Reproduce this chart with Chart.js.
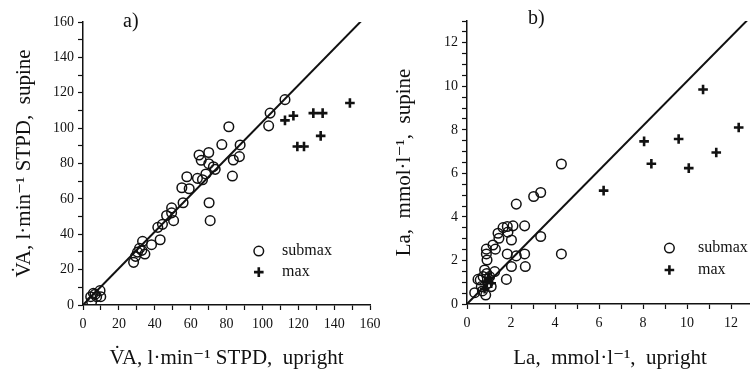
<!DOCTYPE html>
<html lang="en">
<head>
<meta charset="UTF-8">
<title>VA and La, upright vs supine</title>
<script src="https://cdn.jsdelivr.net/npm/chart.js"></script>
<style>
    html, body { margin: 0; padding: 0; background: #fff; overflow: hidden; width: 750px; height: 375px; }
    .panel { position: absolute; top: 0; height: 375px; }
    #pa { left: 0; width: 380px; }
    #pb { left: 380px; width: 390px; }
    .tag { position: absolute; font-family: "Liberation Serif", serif; font-size: 20px; color: #111; }
</style>
</head>
<body>
<div class="panel" id="pa"><canvas id="chartA" width="380" height="375"></canvas></div>
<div class="panel" id="pb"><canvas id="chartB" width="390" height="375"></canvas></div>
<div class="tag" style="left:123px; top:9px;">a)</div>
<div class="tag" style="left:528px; top:6px;">b)</div>

<script>
// panel a: alveolar ventilation, l/min STPD
const subA_x = [112.6, 104.3, 103.5, 81.3, 77.4, 87.6, 87.2, 83.8, 83.3, 64.7, 70.1, 65.9, 70.1, 72.7, 73.7, 68.5, 63.8, 66.6, 57.9, 55.1, 59.2, 55.8, 70.3, 70.9, 49.4, 49.4, 46.6, 50.5, 44.3, 41.7, 43.0, 38.2, 33.2, 34.5, 31.5, 30.4, 29.3, 28.2, 32.8, 5.8, 9.5, 4.3, 7.6, 4.8, 9.9, 6.7];
const subA_y = [116.1, 108.5, 101.3, 100.8, 90.7, 90.5, 83.9, 82.0, 72.9, 84.8, 86.2, 81.8, 79.9, 78.2, 76.7, 74.1, 71.6, 70.8, 72.5, 66.3, 65.7, 57.8, 57.8, 47.7, 54.9, 52.1, 50.6, 47.7, 45.6, 43.9, 36.9, 34.1, 36.0, 28.8, 32.0, 29.9, 27.5, 24.1, 30.9, 6.6, 8.1, 4.7, 4.7, 1.9, 4.7, 6.0];
const maxA_x = [112.6, 117.3, 128.4, 133.6, 132.5, 119.5, 123.2, 148.8];
const maxA_y = [104.4, 107.0, 108.5, 108.5, 95.6, 89.6, 89.6, 114.2];
const lineA_x = [0, 157];
const lineA_y = [0, 162.5];

// panel b: blood lactate, mmol/l
const subB_x = [4.29, 3.35, 3.03, 2.24, 2.62, 2.09, 1.83, 1.64, 1.86, 1.41, 1.45, 1.18, 1.29, 0.88, 0.88, 0.91, 2.02, 1.83, 2.24, 2.62, 3.35, 4.29, 2.02, 2.65, 1.79, 1.26, 0.5, 0.35, 0.85, 0.73, 0.95, 1.1, 0.8, 1.03, 0.65, 0.6, 0.9, 0.7];
const subB_y = [6.43, 5.12, 4.94, 4.59, 3.59, 3.59, 3.56, 3.51, 3.3, 3.25, 3.02, 2.71, 2.52, 2.52, 2.3, 2.02, 2.94, 2.3, 2.21, 2.3, 3.1, 2.3, 1.72, 1.72, 1.13, 1.49, 1.13, 0.52, 0.41, 1.26, 0.95, 0.8, 1.56, 1.26, 0.8, 1.1, 1.4, 0.6];
const maxB_x = [6.21, 8.05, 8.38, 9.62, 10.08, 10.73, 11.33, 12.35, 0.9, 1.0, 0.8, 1.1];
const maxB_y = [5.21, 7.47, 6.44, 7.58, 6.24, 9.85, 6.96, 8.11, 1.0, 1.2, 0.7, 0.95];
const lineB_x = [0, 12.9];
const lineB_y = [0, 13.2];

const serif = "'Liberation Serif', 'DejaVu Serif', serif";
const ink = '#111';

function pts(xs, ys) {
    return xs.map((x, i) => ({ x: x, y: ys[i] }));
}

// small legend drawn inside the plot, placed in data units
const miniLegend = {
    id: 'miniLegend',
    afterDatasetsDraw(chart, args, opts) {
        const ctx = chart.ctx;
        const xs = chart.scales.x, ys = chart.scales.y;
        const px = xs.getPixelForValue(opts.x);
        const tx = xs.getPixelForValue(opts.textX);
        const y1 = ys.getPixelForValue(opts.y1);
        const y2 = ys.getPixelForValue(opts.y2);
        ctx.save();
        ctx.strokeStyle = ink;
        ctx.lineWidth = 1.5;
        ctx.beginPath();
        ctx.arc(px, y1, 4.8, 0, Math.PI * 2);
        ctx.stroke();
        ctx.lineWidth = 2.6;
        ctx.beginPath();
        ctx.moveTo(px - 4.8, y2); ctx.lineTo(px + 4.8, y2);
        ctx.moveTo(px, y2 - 4.8); ctx.lineTo(px, y2 + 4.8);
        ctx.stroke();
        ctx.fillStyle = ink;
        ctx.font = '16px ' + serif;
        ctx.textBaseline = 'middle';
        ctx.fillText('submax', tx, y1);
        ctx.fillText('max', tx, y2);
        ctx.restore();
    }
};

function makeChart(id, cfg) {
    return new Chart(document.getElementById(id), {
        type: 'scatter',
        data: {
            datasets: [
                {
                    label: 'submax',
                    data: pts(cfg.subX, cfg.subY),
                    pointStyle: 'circle',
                    pointRadius: 4.8,
                    borderColor: ink,
                    backgroundColor: 'rgba(0,0,0,0)',
                    borderWidth: 1.5
                },
                {
                    label: 'max',
                    data: pts(cfg.maxX, cfg.maxY),
                    pointStyle: 'cross',
                    pointRadius: 4.8,
                    borderColor: ink,
                    borderWidth: 2.6
                },
                {
                    type: 'line',
                    label: 'fit',
                    data: pts(cfg.lineX, cfg.lineY),
                    borderColor: ink,
                    borderWidth: 2,
                    pointRadius: 0,
                    fill: false
                }
            ]
        },
        options: {
            responsive: false,
            animation: false,
            layout: { autoPadding: false, padding: cfg.padding },
            plugins: {
                legend: { display: false },
                tooltip: { enabled: false },
                miniLegend: cfg.legend
            },
            scales: {
                x: {
                    type: 'linear',
                    min: 0, max: cfg.xMax,
                    afterFit: s => { s.height = cfg.xAxisHeight; s.paddingLeft = 0; s.paddingRight = 0; },
                    border: { color: ink, width: 1.5 },
                    grid: { drawOnChartArea: false, tickLength: 5, color: ink, tickWidth: 1.2 },
                    ticks: {
                        stepSize: cfg.xMinor,
                        autoSkip: false,
                        maxRotation: 0,
                        padding: 6,
                        color: ink,
                        font: { family: serif, size: 14 },
                        callback: v => (Math.abs(v / cfg.xMajor - Math.round(v / cfg.xMajor)) < 1e-6 ? v : '')
                    },
                    title: {
                        display: true,
                        text: cfg.xTitle,
                        color: ink,
                        font: { family: serif, size: 21 },
                        padding: { top: 6 }
                    }
                },
                y: {
                    type: 'linear',
                    min: 0, max: cfg.yMax,
                    afterFit: s => { s.width = cfg.yAxisWidth; s.paddingTop = 0; s.paddingBottom = 0; },
                    border: { color: ink, width: 1.5 },
                    grid: { drawOnChartArea: false, tickLength: 5, color: ink, tickWidth: 1.2 },
                    ticks: {
                        stepSize: cfg.yMinor,
                        autoSkip: false,
                        padding: 4,
                        color: ink,
                        font: { family: serif, size: 14 },
                        callback: v => (Math.abs(v / cfg.yMajor - Math.round(v / cfg.yMajor)) < 1e-6 ? v : '')
                    },
                    title: {
                        display: true,
                        text: cfg.yTitle,
                        color: ink,
                        font: { family: serif, size: 21 },
                        padding: { top: 12, bottom: 2 }
                    }
                }
            }
        },
        plugins: [miniLegend]
    });
}

makeChart('chartA', {
    subX: subA_x, subY: subA_y, maxX: maxA_x, maxY: maxA_y, lineX: lineA_x, lineY: lineA_y,
    xMax: 160, yMax: 160, xMinor: 10, xMajor: 20, yMinor: 10, yMajor: 20,
    padding: { left: 0, top: 22, right: 10, bottom: 0 },
    yAxisWidth: 83, xAxisHeight: 70,
    xTitle: 'V\u0307A, l\u00b7min\u207b\u00b9 STPD,  upright',
    yTitle: 'V\u0307A, l\u00b7min\u207b\u00b9 STPD,  supine',
    legend: { x: 98, textX: 111, y1: 30.5, y2: 18.6 }
});

makeChart('chartB', {
    subX: subB_x, subY: subB_y, maxX: maxB_x, maxY: maxB_y, lineX: lineB_x, lineY: lineB_y,
    xMax: 13, yMax: 13, xMinor: 1, xMajor: 2, yMinor: 0.5, yMajor: 2,
    padding: { left: 0, top: 21, right: 17, bottom: 0 },
    yAxisWidth: 87, xAxisHeight: 71,
    xTitle: 'La,  mmol\u00b7l\u207b\u00b9,  upright',
    yTitle: 'La,  mmol\u00b7l\u207b\u00b9,  supine',
    legend: { x: 9.2, textX: 10.5, y1: 2.57, y2: 1.56 }
});
</script>
</body>
</html>
